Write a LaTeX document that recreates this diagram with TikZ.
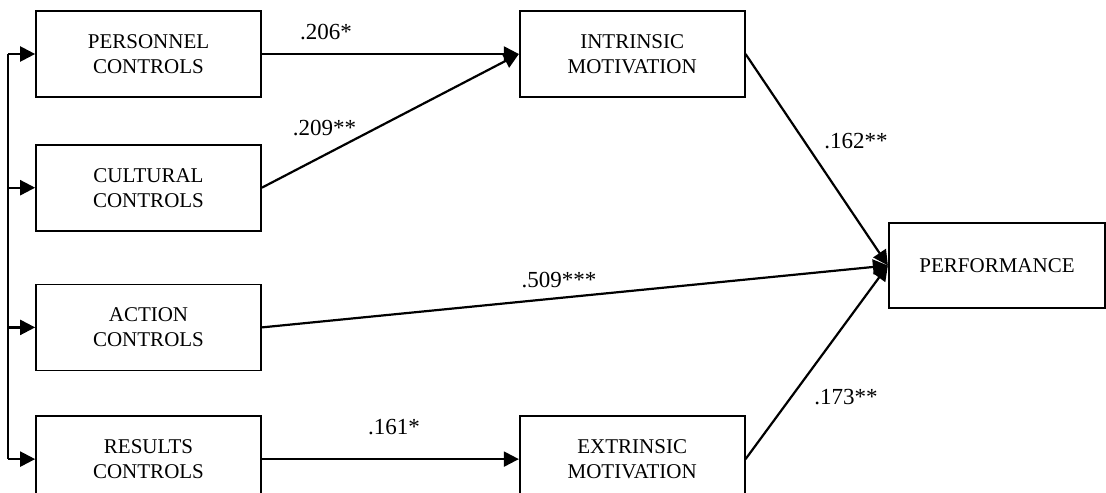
\documentclass[tikz,border=0pt]{standalone}
\usepackage{fontspec}
\setmainfont{Liberation Serif}
\usetikzlibrary{positioning,arrows.meta}

\begin{document}
\begin{tikzpicture}[x=0.5pt, y=-0.5pt,
    ctrl/.style={rectangle, draw=black, line width=0.85pt,
                 minimum width=112.5pt, minimum height=43pt,
                 inner sep=0pt, align=center,
                 font=\fontsize{10.5}{12.5}\selectfont},
    coef/.style={inner sep=0pt, font=\fontsize{11.5}{13}\selectfont},
    arrow/.style={-{Triangle[length=7.5pt, width=7.5pt]}, line width=1.1pt}
]
    \useasboundingbox (0,0) rectangle (1106,492);

    % control types
    \node[ctrl] (pers) at (148.5,54) {PERSONNEL\\CONTROLS};
    \node[ctrl, below=23pt of pers] (cult) {CULTURAL\\CONTROLS};
    \node[ctrl, below=26pt of cult] (act) {ACTION\\CONTROLS};
    \node[ctrl, below=22pt of act] (res) {RESULTS\\CONTROLS};

    % mediators and outcome
    \node[ctrl, right=128.5pt of pers] (intr) {INTRINSIC\\MOTIVATION};
    \node[ctrl, right=128.5pt of res] (extr) {EXTRINSIC\\MOTIVATION};
    \node[ctrl, minimum width=108pt, minimum height=42.5pt, line width=1.1pt]
        (perf) at (997,265.5) {PERFORMANCE};

    % bracket on the left
    \coordinate (spine) at (8,0);
    \draw[line width=1.1pt] (spine |- pers.west) -- (spine |- res.west);
    \foreach \n in {pers,cult,act,res}
        \draw[arrow] (spine |- \n.west) -- (\n.west);

    \draw[arrow] (pers.east) -- (intr.west);
    \draw[arrow] (cult.east) -- (intr.west);
    \draw[arrow] (act.east) -- (perf.west);
    \draw[arrow] (res.east) -- (extr.west);
    \draw[arrow] (intr.east) -- (perf.west);
    \draw[arrow] (extr.east) -- (perf.west);

    % path coefficients
    \node[coef] (c206) at (326,32) {.206*};
    \node[coef] (c209) at (324.5,128) {.209**};
    \node[coef] (c509) at (559,280) {.509***};
    \node[coef] (c161) at (394,427) {.161*};
    \node[coef] (c162) at (856,141) {.162**};
    \node[coef] (c173) at (846,397) {.173**};
\end{tikzpicture}
\end{document}
